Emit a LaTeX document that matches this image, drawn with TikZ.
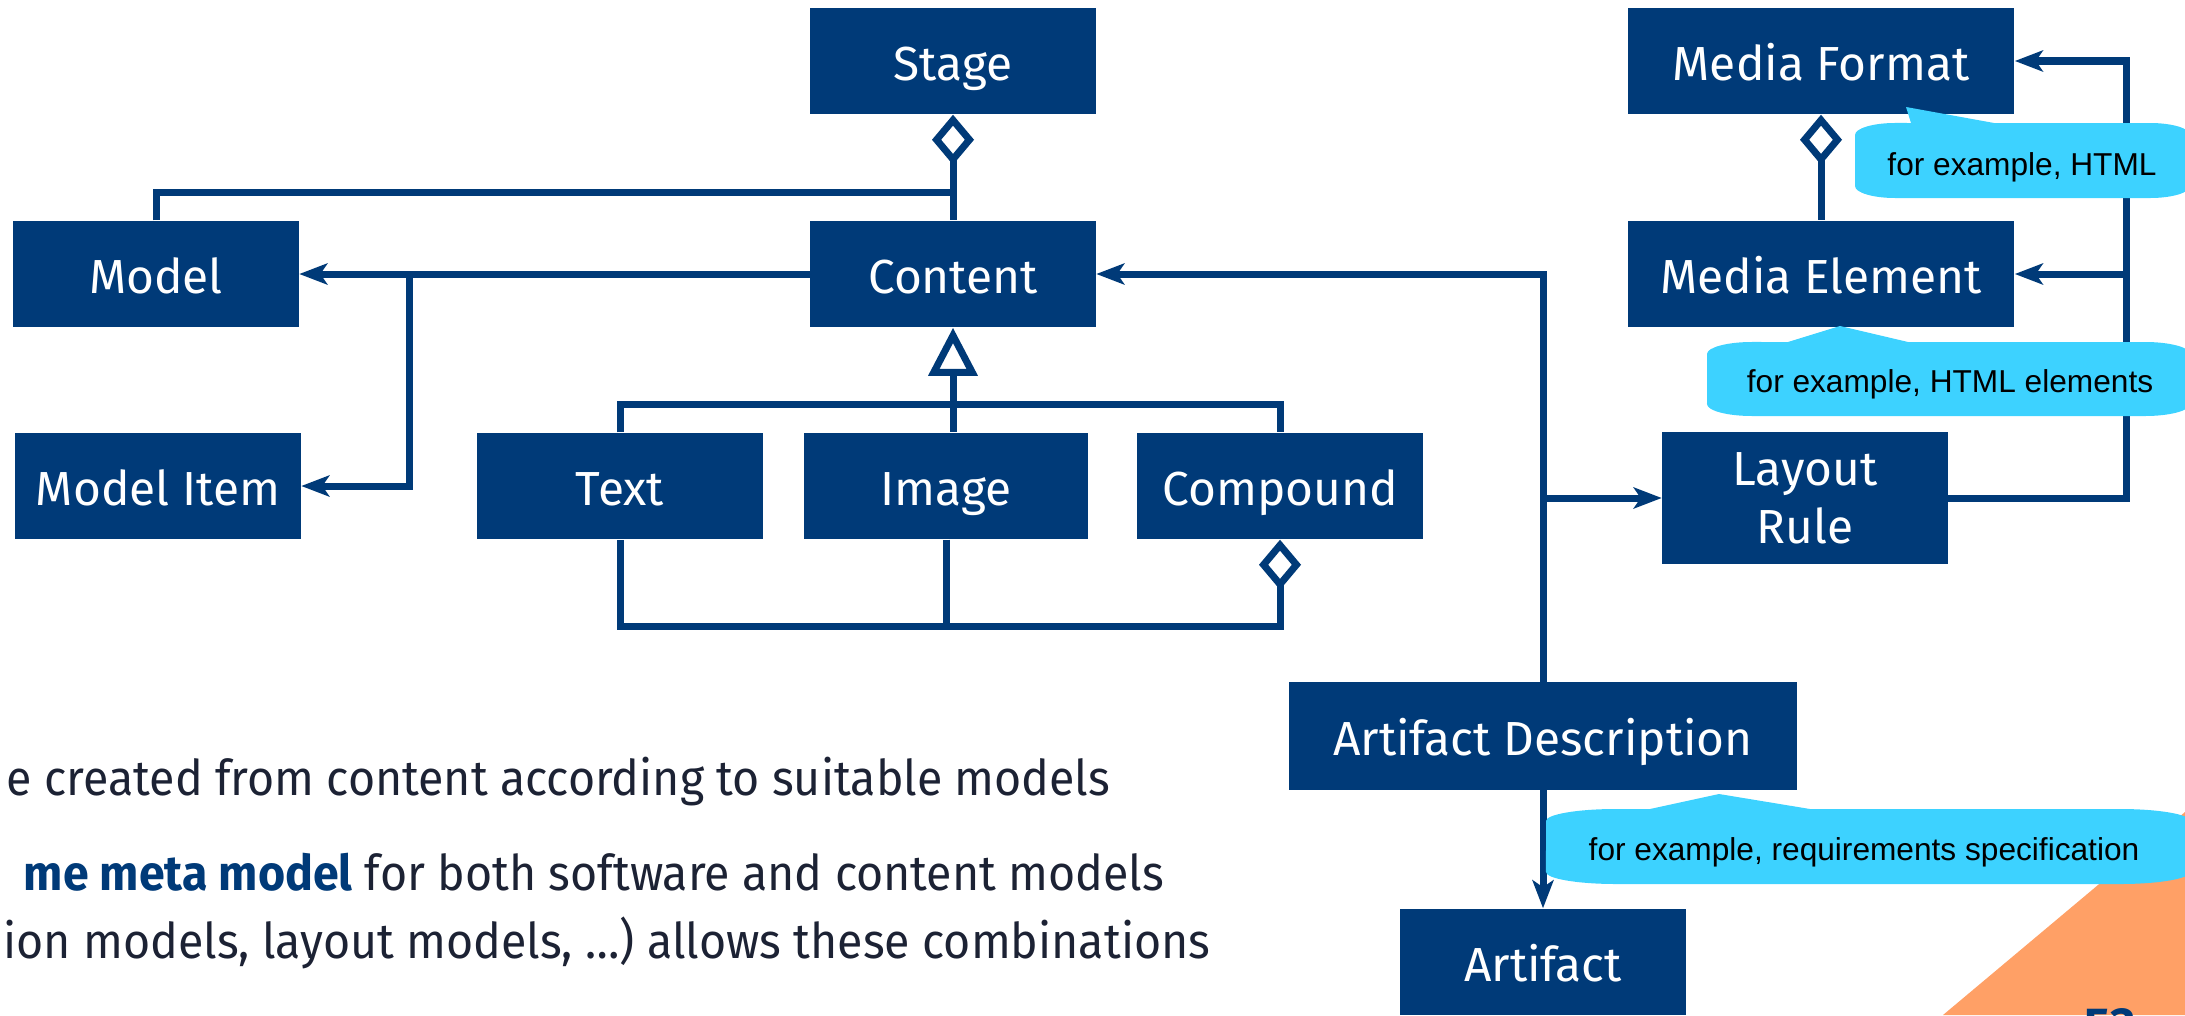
\documentclass[tikz,border=0pt]{standalone}
\usepackage{fontspec}
\setmainfont{Fira Sans}
\newfontfamily\bodyfont{Fira Sans}[FakeStretch=0.945]
\newfontfamily\notefont{Liberation Sans}
\usetikzlibrary{arrows.meta, positioning}

\definecolor{boxblue}{HTML}{003A78}
\definecolor{noteblue}{HTML}{3DD2FF}
\definecolor{bodytext}{HTML}{1C2234}
\definecolor{cornerorange}{HTML}{FFA066}

\tikzset{
  umlbox/.style={fill=boxblue, text=white, inner sep=0pt, align=center,
    minimum width=2.85cm, minimum height=1.06cm,
    text height=10.9pt, text depth=0pt, font=\fontsize{13.6}{16.4}\selectfont},
  conn/.style={draw=boxblue, line width=0.7mm},
  ref/.style={conn, -{Stealth[length=2.8mm, width=2.1mm, inset=0.7mm]}},
  aggr/.style={conn, {Diamond[open, length=5mm, width=4.2mm]}-},
  gen/.style={conn, {Triangle[open, length=4.8mm, width=4.8mm]}-},
  note/.style={fill=noteblue},
  notetext/.style={font=\notefont\fontsize{9}{11}\selectfont, text=black, inner sep=0pt, anchor=base},
  bodyline/.style={font=\bodyfont\fontsize{14}{17}\selectfont, text=bodytext, inner sep=0pt, anchor=base east},
}

\begin{document}
\begin{tikzpicture}[x=0.01cm, y=-0.01cm]
  \useasboundingbox (0,0) rectangle (2185,1015);
  \clip (0,0) rectangle (2185,1015);

  % page corner
  \fill[cornerorange] (2185,812) -- (1943,1015) -- (2185,1015) -- cycle;
  \node[font=\fontsize{14}{16}\selectfont\bfseries, text=boxblue, anchor=north west, inner sep=0pt] (pagenum) at (2084,1008) {53};

  % slide text
  \node[bodyline] (line1) at (1111,795) {e created from content according to suitable models};
  \node[bodyline] (line2) at (1165,890) {\textcolor{boxblue}{\bfseries me meta model} for both software and content models};
  \node[bodyline] (line3) at (1211,958) {ion models, layout models, …) allows these combinations};

  % classes
  \node[umlbox] (stage) at (953,61) {Stage};
  \node[umlbox] (content) at (953,274) {Content};
  \node[umlbox] (model) at (156,274) {Model};
  \node[umlbox] (item) at (158,486) {Model Item};
  \node[umlbox] (text) at (620,486) {Text};
  \node[umlbox, minimum width=2.84cm] (image) at (946,486) {Image};
  \node[umlbox] (compound) at (1280,486) {Compound};
  \node[umlbox, minimum width=3.86cm] (mformat) at (1821,61) {Media Format};
  \node[umlbox, minimum width=3.86cm] (melement) at (1821,274) {Media Element};
  \node[umlbox, minimum height=1.31cm, text height=, text depth=] (rule) at (1805,498) {Layout\\Rule};
  \node[umlbox, minimum width=5.08cm, minimum height=1.07cm] (artdesc) at (1543,736) {Artifact Description};
  \node[umlbox] (artifact) at (1543,962) {Artifact};

  % aggregations
  \draw[aggr] (stage.south) -- (content.north);
  \coordinate (stagebus) at (953,192);
  \draw[conn] (model.north) |- (stagebus);
  \draw[aggr] (mformat.south) -- (melement.north);

  % content uses model and model item
  \draw[ref] (content.west) -- (model.east);
  \coordinate (modelbus) at (409,274);
  \draw[ref] (modelbus) |- (item.east);

  % kinds of content
  \draw[gen] (content.south) -- (content.south |- image.north);
  \draw[conn] (text.north) -- ++(0,-28) -| (compound.north);

  % compound holds text and images
  \draw[aggr] (compound.south) -- ++(0,87) -| (text.south);
  \draw[conn] (image.south) -- ++(0,87);

  % artifact description
  \draw[ref] (artdesc.north) |- (content.east);
  \draw[ref] (artdesc.north |- rule.west) -- (rule.west);
  \draw[ref] (artdesc.south) -- (artifact.north);

  % layout rule refers to media
  \coordinate (mediabus) at (2126,498);
  \draw[ref] (rule.east) -- (mediabus) |- (mformat.east);
  \draw[ref] (mediabus |- melement.east) -- (melement.east);

  % notes
  \fill[note] (1855,135) arc[start angle=180, end angle=90, x radius=4mm, y radius=1.2mm]
    -- (1911,123) -- (1906,107) -- (1994,123) -- (2150,123)
    arc[start angle=90, end angle=0, x radius=4mm, y radius=1.2mm] -- (2190,186)
    arc[start angle=0, end angle=-90, x radius=4mm, y radius=1.2mm] -- (1895,198)
    arc[start angle=270, end angle=180, x radius=4mm, y radius=1.2mm] -- cycle;
  \node[notetext] (note1) at (2022,175) {for example, HTML};

  \fill[note] (1707,354) arc[start angle=180, end angle=90, x radius=4.5mm, y radius=1.2mm]
    -- (1788,342) -- (1840,326) -- (1908,342) -- (2145,342)
    arc[start angle=90, end angle=0, x radius=4.5mm, y radius=1.2mm] -- (2190,404)
    arc[start angle=0, end angle=-90, x radius=4.5mm, y radius=1.2mm] -- (1752,416)
    arc[start angle=270, end angle=180, x radius=4.5mm, y radius=1.2mm] -- cycle;
  \node[notetext] (note2) at (1950,392) {for example, HTML elements};

  \fill[note] (1546,821) arc[start angle=180, end angle=90, x radius=7mm, y radius=1.2mm]
    -- (1650,809) -- (1719,794) -- (1810,809) -- (2120,809)
    arc[start angle=90, end angle=0, x radius=7mm, y radius=1.2mm] -- (2190,872)
    arc[start angle=0, end angle=-90, x radius=7mm, y radius=1.2mm] -- (1616,884)
    arc[start angle=270, end angle=180, x radius=7mm, y radius=1.2mm] -- cycle;
  \node[notetext] (note3) at (1864,860) {for example, requirements specification};
\end{tikzpicture}
\end{document}
